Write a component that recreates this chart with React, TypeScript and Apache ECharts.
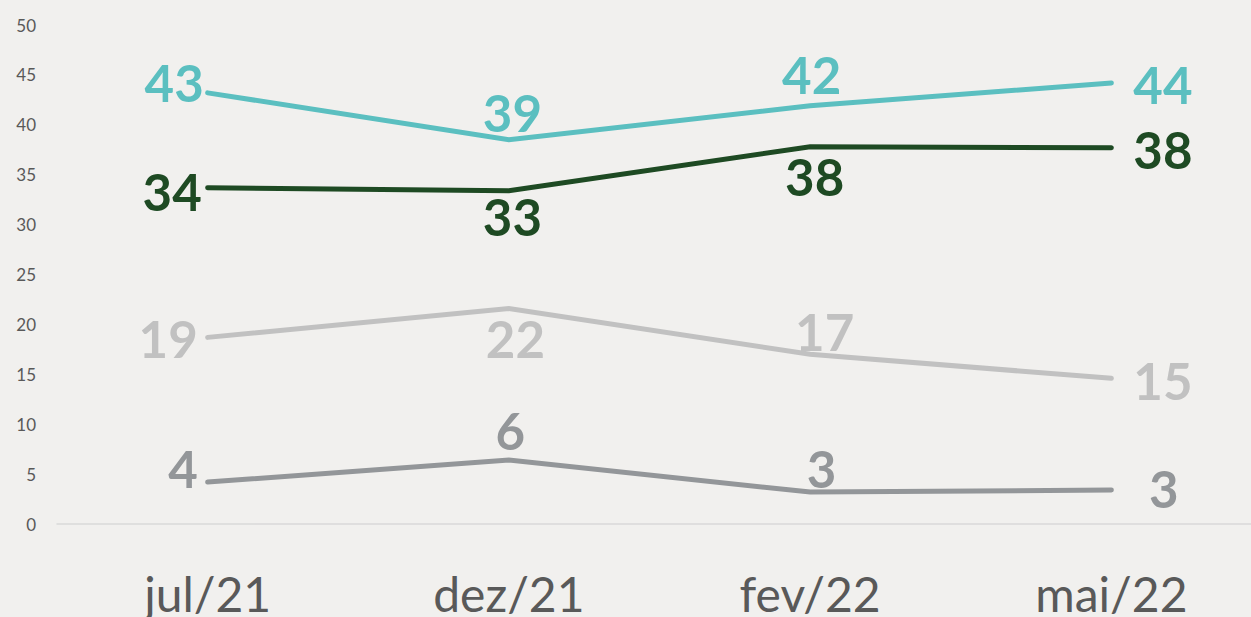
import React, { useEffect, useRef } from "react";
import * as echarts from "echarts";

const categories = ["jul/21", "dez/21", "fev/22", "mai/22"];
const yTicks = { min: 0, max: 50, interval: 5 };

const tealValues = [43.2, 38.5, 41.9, 44.2];
const tealLabels = ["43", "39", "42", "44"];
const greenValues = [33.7, 33.4, 37.8, 37.7];
const greenLabels = ["34", "33", "38", "38"];
const lightValues = [18.7, 21.6, 17.0, 14.6];
const lightLabels = ["19", "22", "17", "15"];
const grayValues = [4.2, 6.4, 3.2, 3.4];
const grayLabels = ["4", "6", "3", "3"];

const FONT = "Lato, 'Open Sans', sans-serif";

function makeSeries(name: string, values: number[], labels: string[], color: string, offsets: number[][], z: number) {
  return {
    name,
    type: "line",
    z,
    data: values.map((v, i) => ({
      value: v,
      label: {
        show: true,
        position: [offsets[i][0], offsets[i][1]],
        align: "center",
        verticalAlign: "middle",
        formatter: () => labels[i],
      },
    })),
    symbol: "circle",
    symbolSize: 1,
    showSymbol: true,
    itemStyle: { color },
    lineStyle: { color, width: 5, cap: "round", join: "miter" },
    label: {
      show: true,
      color,
      fontFamily: FONT,
      fontWeight: "bold",
      fontSize: 51,
    },
    emphasis: { disabled: true },
  };
}

export default function App() {
  const ref = useRef<HTMLDivElement>(null);
  useEffect(() => {
    document.body.style.margin = "0";
    document.body.style.overflow = "hidden";
    const chart = echarts.init(ref.current!, null, { renderer: "svg" });
    chart.setOption({
      animation: false,
      backgroundColor: "#f1f0ee",
      grid: { left: 57, right: 0, top: 25, bottom: 92, containLabel: false },
      xAxis: {
        type: "category",
        data: categories,
        boundaryGap: true,
        axisLine: { show: true, lineStyle: { color: "#d9d9d9", width: 1.5 } },
        axisTick: { show: false },
        axisLabel: { color: "#595959", fontSize: 48, fontFamily: FONT, margin: 45 },
      },
      yAxis: {
        type: "value",
        min: yTicks.min,
        max: yTicks.max,
        interval: yTicks.interval,
        axisLine: { show: false },
        axisTick: { show: false },
        splitLine: { show: false },
        axisLabel: { color: "#595959", fontSize: 17, fontFamily: FONT, margin: 21 },
      },
      series: [
        makeSeries("gray", grayValues, grayLabels, "#939699", [[-24, -13], [2, -29], [12, -23], [53, -1]], 1),
        makeSeries("light", lightValues, lightLabels, "#c1c1c1", [[-39, 2], [7, 31], [15, -22], [52, 3]], 2),
        makeSeries("green", greenValues, greenLabels, "#1e4a23", [[-35, 4], [4, 26], [5, 30], [52, 2]], 3),
        makeSeries("teal", tealValues, tealLabels, "#5bbfc0", [[-33, -10], [4, -27], [2, -31], [52, 2]], 4),
      ],
    });
    return () => chart.dispose();
  }, []);
  return <div ref={ref} style={{ width: 1262, height: 617 }} />;
}
